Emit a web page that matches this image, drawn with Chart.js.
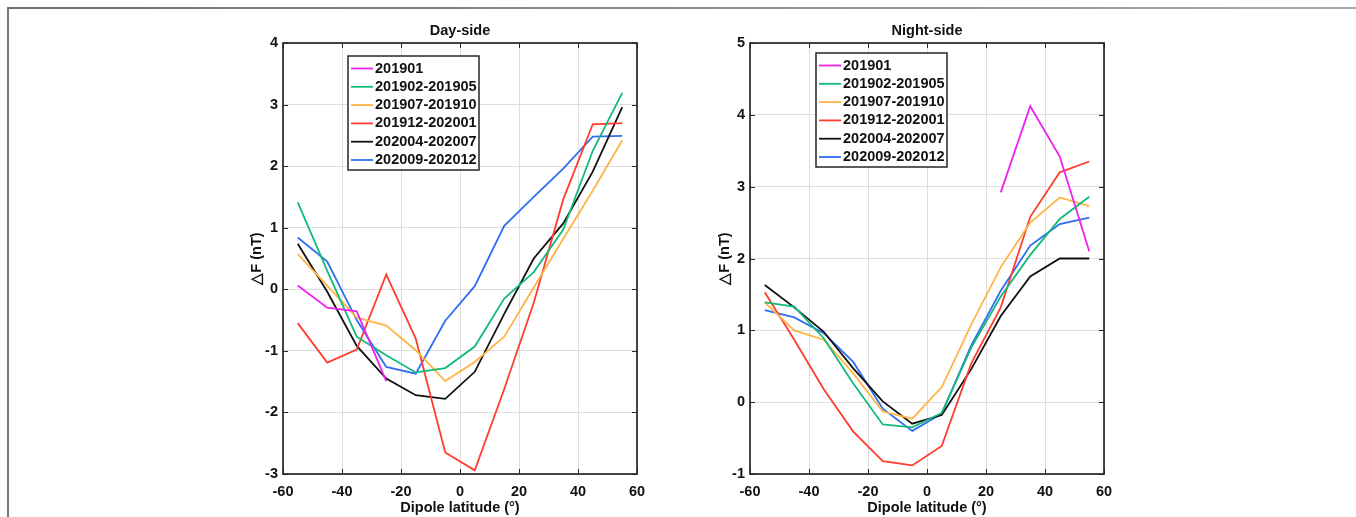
<!DOCTYPE html>
<html>
<head>
<meta charset="utf-8">
<script src="https://cdn.jsdelivr.net/npm/chart.js@4.4.1/dist/chart.umd.min.js"></script>
<style>
    html, body { margin: 0; padding: 0; background: #fff; }
    body { width: 1356px; height: 517px; position: relative; overflow: hidden; }
    .frame-top { position: absolute; left: 7px; top: 7px; width: 1349px; height: 2px; background: linear-gradient(to right, #707070, #a8a8a8); }
    .frame-left { position: absolute; left: 7px; top: 7px; width: 2px; height: 510px; background: #787878; }
    canvas { position: absolute; top: 0; }
    #dayChart { left: 200px; }
    #nightChart { left: 665px; }
</style>
</head>
<body>
<div class="frame-top"></div>
<div class="frame-left"></div>
<canvas id="dayChart" width="460" height="517"></canvas>
<canvas id="nightChart" width="460" height="517"></canvas>
<script>
// Dipole latitude bins
const latitudes = [-55, -45, -35, -25, -15, -5, 5, 15, 25, 35, 45, 55];
const seriesNames = ['201901', '201902-201905', '201907-201910', '201912-202001', '202004-202007', '202009-202012'];
const seriesColors = ['#F020F0', '#12BA78', '#FFB445', '#FF3C2E', '#111111', '#2F6EF2'];

// Day-side ΔF (nT)
const day201901 = [0.06, -0.30, -0.36, -1.49, null, null, null, null, null, null, null, null];
const day201902 = [1.41, 0.30, -0.77, -1.07, -1.35, -1.28, -0.93, -0.15, 0.28, 0.97, 2.25, 3.19];
const day201907 = [0.57, 0.06, -0.46, -0.59, -0.99, -1.49, -1.18, -0.77, 0.03, 0.82, 1.60, 2.42];
const day201912 = [-0.55, -1.19, -0.98, 0.24, -0.80, -2.65, -2.94, -1.62, -0.22, 1.46, 2.68, 2.70];
const day202004 = [0.74, -0.04, -0.92, -1.45, -1.72, -1.78, -1.34, -0.40, 0.50, 1.07, 1.91, 2.96];
const day202009 = [0.84, 0.45, -0.50, -1.26, -1.37, -0.51, 0.05, 1.03, 1.50, 1.96, 2.48, 2.49];

// Night-side ΔF (nT)
const night201901 = [null, null, null, null, null, null, null, null, 2.92, 4.12, 3.42, 2.10];
const night201902 = [1.39, 1.33, 0.89, 0.26, -0.31, -0.35, -0.15, 0.76, 1.47, 2.05, 2.55, 2.86];
const night201907 = [1.39, 1.00, 0.87, 0.40, -0.13, -0.23, 0.21, 1.08, 1.88, 2.50, 2.85, 2.73];
const night201912 = [1.53, 0.87, 0.18, -0.41, -0.82, -0.88, -0.61, 0.54, 1.32, 2.58, 3.20, 3.35];
const night202004 = [1.63, 1.32, 0.98, 0.47, 0.01, -0.30, -0.18, 0.46, 1.20, 1.75, 2.00, 2.00];
const night202009 = [1.28, 1.18, 0.96, 0.56, -0.09, -0.40, -0.16, 0.79, 1.55, 2.18, 2.48, 2.57];

const FONT = '"Liberation Sans", Arial, sans-serif';
const TEXT_COLOR = '#111111';

function makeDatasets(seriesList) {
    return seriesList.map((vals, i) => ({
        label: seriesNames[i],
        data: latitudes.map((x, j) => ({ x: x, y: vals[j] })),
        borderColor: seriesColors[i],
        backgroundColor: seriesColors[i],
        borderWidth: 1.8,
        pointRadius: 0,
        fill: false,
        tension: 0,
        spanGaps: false
    }));
}

// MATLAB style box, inward ticks, texts and legend
const matlabAxes = {
    id: 'matlabAxes',
    afterDraw(chart, args, opts) {
        const ctx = chart.ctx;
        const a = chart.chartArea;
        const xs = chart.scales.x;
        const ys = chart.scales.y;
        ctx.save();

        // ticks inside, all four sides
        ctx.strokeStyle = '#262626';
        ctx.lineWidth = 1;
        const tl = 5;
        xs.ticks.forEach(t => {
            const px = Math.round(xs.getPixelForValue(t.value)) + 0.5;
            ctx.beginPath();
            ctx.moveTo(px, a.bottom); ctx.lineTo(px, a.bottom - tl);
            ctx.moveTo(px, a.top); ctx.lineTo(px, a.top + tl);
            ctx.stroke();
        });
        ys.ticks.forEach(t => {
            const py = Math.round(ys.getPixelForValue(t.value)) + 0.5;
            ctx.beginPath();
            ctx.moveTo(a.left, py); ctx.lineTo(a.left + tl, py);
            ctx.moveTo(a.right, py); ctx.lineTo(a.right - tl, py);
            ctx.stroke();
        });

        // box
        ctx.lineWidth = 1.7;
        ctx.strokeRect(a.left, a.top, a.right - a.left, a.bottom - a.top);

        // title and axis labels
        ctx.fillStyle = TEXT_COLOR;
        ctx.font = 'bold 14.5px ' + FONT;
        ctx.textAlign = 'center';
        ctx.textBaseline = 'middle';
        const cx = (a.left + a.right) / 2;
        ctx.fillText(opts.title, cx, 31);
        ctx.fillText('Dipole latitude (°)', cx, 508);
        ctx.save();
        ctx.translate(opts.yLabelX, (a.top + a.bottom) / 2);
        ctx.rotate(-Math.PI / 2);
        ctx.fillText('△F (nT)', 0, 0);
        ctx.restore();

        // legend
        const lg = opts.legend;
        ctx.fillStyle = '#fff';
        ctx.fillRect(lg.x, lg.y, lg.w, lg.h);
        ctx.strokeStyle = '#262626';
        ctx.lineWidth = 1.5;
        ctx.strokeRect(lg.x, lg.y, lg.w, lg.h);
        ctx.textAlign = 'left';
        ctx.font = 'bold 14.5px ' + FONT;
        chart.data.datasets.forEach((ds, i) => {
            const ry = lg.y + 12.5 + i * 18.3;
            ctx.strokeStyle = ds.borderColor;
            ctx.lineWidth = 1.8;
            ctx.beginPath();
            ctx.moveTo(lg.x + 3, ry); ctx.lineTo(lg.x + 25, ry);
            ctx.stroke();
            ctx.fillStyle = TEXT_COLOR;
            ctx.fillText(ds.label, lg.x + 27, ry);
        });
        ctx.restore();
    }
};

function makeChart(canvasId, seriesList, yMin, yMax, yAxisWidth, rightPad, opts) {
    return new Chart(document.getElementById(canvasId), {
        type: 'line',
        data: { datasets: makeDatasets(seriesList) },
        options: {
            responsive: false,
            animation: false,
            devicePixelRatio: 1,
            layout: { padding: { top: 43, right: rightPad, left: 0, bottom: 0 } },
            plugins: {
                legend: { display: false },
                tooltip: { enabled: false },
                matlabAxes: opts
            },
            scales: {
                x: {
                    type: 'linear',
                    min: -60,
                    max: 60,
                    afterFit: function(scale) { scale.height = 43; },
                    grid: { color: '#dedede', lineWidth: 1, drawTicks: false },
                    border: { display: false },
                    ticks: {
                        stepSize: 20,
                        autoSkip: false,
                        maxRotation: 0,
                        padding: 9,
                        color: TEXT_COLOR,
                        font: { family: FONT, size: 14.5, weight: 'bold' }
                    }
                },
                y: {
                    min: yMin,
                    max: yMax,
                    afterFit: function(scale) { scale.width = yAxisWidth; },
                    grid: { color: '#dedede', lineWidth: 1, drawTicks: false },
                    border: { display: false },
                    ticks: {
                        stepSize: 1,
                        padding: 5,
                        color: TEXT_COLOR,
                        font: { family: FONT, size: 14.5, weight: 'bold' }
                    }
                }
            }
        },
        plugins: [matlabAxes]
    });
}

const dayChart = makeChart('dayChart',
    [day201901, day201902, day201907, day201912, day202004, day202009],
    -3, 4, 83, 23,
    { title: 'Day-side', yLabelX: 57, legend: { x: 148, y: 56, w: 131, h: 114 } });

const nightChart = makeChart('nightChart',
    [night201901, night201902, night201907, night201912, night202004, night202009],
    -1, 5, 85, 21,
    { title: 'Night-side', yLabelX: 60, legend: { x: 151, y: 53, w: 131, h: 114 } });
</script>
</body>
</html>
